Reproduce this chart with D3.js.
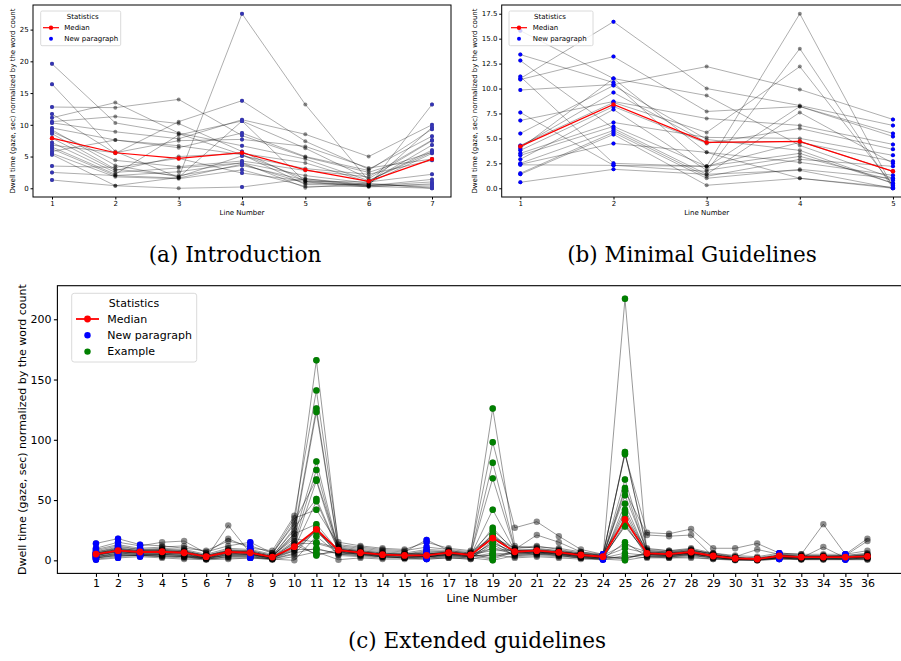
<!DOCTYPE html>
<html>
<head>
<meta charset="utf-8">
<script src="https://cdn.jsdelivr.net/npm/d3@7"></script>
<style>
  body { margin: 0; background: #fff; }
  svg { display: block; }
</style>
</head>
<body>
<svg id="chart" width="901" height="661"></svg>
<script>
// ---- data: (a) Introduction ----
const introLines = [1, 2, 3, 4, 5, 6, 7];
const introNewParagraph = [1, 4, 7];
const introMedian = [7.9, 5.6, 4.7, 5.6, 2.9, 1.1, 4.6];
const introRows = [
  [19.6, 10.3, 8.6, 5.3, 1.5, 0.6, 9.6],
  [16.4, 5.8, 1.7, 10.6, 6.3, 1.5, 7.5],
  [12.8, 12.7, 14.0, 8.3, 4.9, 2.5, 5.7],
  [11.7, 5.5, 10.5, 13.8, 7.4, 3.0, 8.2],
  [11.1, 13.5, 8.7, 6.7, 4.6, 1.2, 6.0],
  [10.5, 11.3, 10.2, 5.8, 1.1, 0.3, 13.2],
  [10.3, 8.9, 7.8, 10.8, 8.5, 5.0, 10.0],
  [9.5, 7.6, 6.4, 8.7, 5.0, 2.8, 9.3],
  [9.2, 3.6, 1.8, 5.1, 3.1, 2.2, 4.4],
  [8.9, 4.4, 3.4, 4.3, 2.8, 1.8, 7.6],
  [8.6, 3.0, 2.0, 3.6, 1.3, 0.4, 1.0],
  [7.9, 2.8, 5.0, 5.5, 4.0, 1.0, 6.8],
  [7.2, 2.5, 3.2, 4.0, 2.0, 0.8, 5.5],
  [6.8, 5.6, 7.5, 7.7, 6.6, 3.2, 4.6],
  [6.5, 2.2, 8.4, 10.6, 1.0, 0.2, 0.7],
  [6.2, 2.0, 1.6, 3.8, 0.8, 0.6, 0.2],
  [5.8, 7.6, 6.7, 5.3, 0.6, 0.5, 0.5],
  [5.5, 1.8, 1.5, 2.9, 0.3, 0.3, 0.0],
  [5.3, 0.4, 0.0, 0.2, 1.5, 0.4, 1.4],
  [3.5, 3.3, 4.7, 2.4, 1.1, 1.0, 2.2],
  [2.5, 2.0, 2.6, 4.0, 0.1, 0.8, 0.0],
  [1.3, 0.4, 1.7, 27.5, 13.2, 1.2, 5.7]
];
const introYTicks = [0, 5, 10, 15, 20, 25];

// ---- data: (b) Minimal Guidelines ----
const minimalLines = [1, 2, 3, 4, 5];
const minimalNewParagraph = [1, 2, 5];
const minimalMedian = [4.2, 8.4, 4.6, 4.7, 1.7];
const minimalRows = [
  [15.8, 11.0, 9.3, 4.3, 1.0],
  [13.4, 10.6, 2.1, 8.2, 5.2],
  [12.8, 6.0, 1.4, 7.6, 2.5],
  [11.2, 2.5, 2.2, 17.5, 0.1],
  [11.0, 16.7, 10.0, 8.3, 6.3],
  [10.9, 13.2, 7.7, 8.2, 5.5],
  [9.85, 10.4, 12.2, 9.9, 6.9],
  [7.6, 2.3, 1.7, 14.0, 0.0],
  [6.8, 8.7, 7.0, 6.3, 4.4],
  [5.5, 10.3, 4.9, 3.8, 0.5],
  [4.3, 8.6, 5.6, 12.2, 0.3],
  [4.2, 9.6, 4.6, 4.7, 1.7],
  [4.0, 11.0, 3.6, 1.0, 0.0],
  [3.8, 8.2, 4.5, 6.0, 3.9],
  [3.5, 6.6, 5.1, 5.0, 3.3],
  [3.3, 6.2, 2.2, 4.6, 2.7],
  [2.9, 7.9, 1.8, 3.2, 0.8],
  [2.5, 5.8, 1.2, 2.9, 2.2],
  [2.4, 4.5, 3.6, 2.6, 1.3],
  [1.5, 5.6, 1.0, 1.9, 1.0],
  [1.4, 5.4, 0.3, 1.0, 0.1],
  [0.6, 1.9, 1.4, 1.8, 0.0],
  [2.35, 2.3, 2.2, 3.5, 0.5]
];
const minimalYTicks = [0, 2.5, 5, 7.5, 10, 12.5, 15, 17.5];

// ---- data: (c) Extended guidelines ----
const extendedLines = d3.range(1, 37);
const extendedNewParagraph = [1, 2, 3, 8, 16, 24, 32, 35];
const extendedExample = [11, 19, 25];
const extendedMedian = [5.2, 8, 6.9, 7.1, 6.3, 3, 6.9, 6.3, 2.7, 11.3, 25.7, 8.5, 6.3, 4.7, 4.1, 4.1, 6.3, 4.4,
  18.5, 7.1, 8, 6.6, 4.4, 3, 34, 5.8, 5.2, 6.9, 3.6, 1.6, 1.1, 3.6, 2.7, 2.7, 2.7, 3.3];
const extendedRows = [
  [3, 6, 5, 4, 3, 2, 4, 5, 1, 8, 24, 6, 5, 3, 2, 3, 4, 3, 10, 5, 6, 4, 3, 2, 217, 4, 3, 5, 2, 1, 0.5, 2, 1, 2, 1, 2],
  [14, 18, 13, 12, 10, 8, 16, 12, 6, 30, 166, 12, 10, 8, 7, 17, 8, 6, 126, 12, 10, 8, 6, 4, 90, 8, 7, 9, 5, 3, 2, 5, 4, 3, 4, 6],
  [10, 15, 12, 15, 16, 6, 18, 10, 8, 37, 141, 15, 12, 10, 9, 15, 10, 8, 98, 27, 32, 20, 9, 5, 88, 23, 22, 26, 10, 10, 14, 6, 5, 30, 5, 18],
  [8, 12, 9, 9, 8, 4, 9, 8, 4, 25, 126, 10, 8, 6, 5, 8, 7, 5, 81, 10, 12, 9, 6, 4, 89, 10, 8, 9, 5, 2, 1, 4, 3, 3, 3, 4],
  [6, 10, 8, 8, 7, 3, 8, 7, 3, 22, 123, 9, 7, 5, 5, 6, 6, 5, 68, 9, 8, 7, 5, 3, 67, 7, 6, 8, 4, 2, 1, 4, 3, 4, 3, 5],
  [5, 9, 7, 7, 6, 3, 7, 6, 3, 20, 82, 9, 7, 5, 4, 5, 6, 4, 42, 8, 9, 7, 5, 3, 60, 6, 5, 7, 4, 1.5, 1, 3, 3, 3, 3, 4],
  [4, 8, 6, 6, 6, 2, 29, 6, 2, 15, 75, 8, 6, 4, 4, 4, 5, 4, 27, 7, 8, 6, 4, 2, 58, 21, 20, 21, 3, 1, 0.5, 3, 2, 11, 2, 3],
  [7, 11, 9, 10, 9, 5, 10, 9, 5, 32, 67, 11, 9, 7, 6, 9, 8, 6, 25, 9, 21, 15, 7, 4, 54, 8, 7, 8, 6, 3, 9, 5, 4, 4, 4, 16],
  [2, 5, 4, 5, 4, 1, 5, 4, 1, 12, 66, 7, 5, 3, 3, 3, 4, 3, 22, 6, 7, 5, 3, 1, 47, 5, 4, 6, 3, 1, 0, 2, 2, 2, 2, 3],
  [6, 8, 7, 7, 7, 3, 7, 7, 3, 27, 51, 9, 7, 5, 4, 5, 7, 5, 21, 7, 8, 7, 5, 3, 42, 6, 6, 7, 4, 2, 1, 4, 3, 3, 3, 3],
  [5, 7, 6, 8, 6, 3, 6, 6, 2, 10, 49, 8, 6, 5, 4, 4, 6, 4, 20, 7, 8, 6, 4, 3, 39, 5, 5, 6, 3, 1, 1, 3, 2, 2, 3, 3],
  [9, 13, 10, 11, 12, 7, 12, 15, 6, 35, 42, 13, 11, 9, 8, 11, 9, 7, 19, 10, 11, 10, 7, 5, 35, 9, 8, 10, 6, 4, 3, 6, 5, 5, 5, 8],
  [4, 7, 6, 6, 5, 2, 6, 5, 2, 8, 27, 8, 6, 4, 4, 3, 5, 4, 18, 7, 7, 6, 4, 3, 33, 5, 5, 6, 3, 1, 1, 3, 2, 2, 2, 3],
  [1, 3, 4, 3, 2, 1, 2, 2, 1, 5, 26, 4, 3, 2, 2, 1, 2, 1, 17, 3, 4, 3, 2, 1, 31, 3, 2, 3, 1, 0.5, 0, 1, 1, 1, 1, 1],
  [3, 6, 5, 5, 4, 2, 4, 4, 2, 12, 25, 7, 5, 4, 3, 3, 4, 3, 15, 6, 6, 5, 3, 2, 29, 5, 4, 5, 3, 1, 1, 3, 2, 2, 2, 2],
  [5, 8, 7, 7, 6, 3, 7, 6, 2, 11, 24, 8, 6, 5, 4, 4, 6, 4, 14, 7, 7, 6, 4, 3, 28, 6, 5, 6, 4, 2, 1, 3, 3, 3, 3, 3],
  [2, 4, 4, 3, 3, 1, 3, 3, 1, 0, 20, 5, 4, 3, 2, 2, 3, 2, 13, 4, 5, 4, 2, 1, 15, 3, 3, 4, 2, 0.5, 0.5, 2, 1, 1, 1, 2],
  [7, 10, 8, 9, 8, 4, 8, 8, 4, 18, 15, 10, 8, 6, 5, 7, 7, 5, 10, 8, 9, 8, 5, 4, 13, 7, 6, 8, 5, 2, 2, 4, 3, 3, 4, 5],
  [6, 9, 7, 8, 7, 4, 8, 7, 3, 14, 14, 9, 7, 5, 5, 6, 6, 5, 8, 8, 8, 7, 5, 3, 10, 6, 5, 7, 4, 2, 1, 4, 3, 3, 3, 4],
  [3, 5, 5, 5, 4, 2, 5, 5, 2, 9, 9, 6, 5, 4, 3, 3, 5, 3, 6, 5, 6, 5, 3, 2, 6, 4, 4, 5, 3, 1, 1, 2, 2, 2, 2, 2],
  [0.5, 2, 3, 2, 1, 0.5, 1, 2, 0.5, 3, 7, 0.5, 2, 1, 1, 1, 2, 1, 5, 2, 3, 2, 1, 0.5, 4, 2, 2, 2, 1, 0, 0, 1, 0.5, 0.5, 0.5, 0.5],
  [4, 7, 6, 6, 5, 2, 6, 5, 2, 13, 5, 7, 6, 4, 4, 3, 5, 4, 4, 6, 7, 5, 4, 2, 2, 5, 4, 6, 3, 1, 1, 3, 2, 2, 2, 3],
  [6, 9, 8, 8, 7, 3, 7, 7, 3, 16, 4, 9, 7, 5, 5, 5, 7, 5, 2, 8, 8, 7, 5, 3, 1, 6, 6, 7, 4, 2, 1, 4, 3, 3, 3, 4],
  [2, 4, 4, 4, 3, 1, 3, 3, 1, 6, 10, 5, 4, 3, 2, 2, 3, 2, 0, 4, 5, 4, 2, 1, 0, 3, 3, 4, 2, 0.5, 0.5, 2, 1, 1, 1, 1],
  [5, 8, 7, 7, 6, 3, 7, 6, 3, 22, 30, 8, 6, 5, 4, 5, 6, 4, 1, 7, 7, 6, 4, 3, 2, 6, 5, 6, 4, 2, 1, 4, 3, 3, 3, 3]
];
const extendedYTicks = [0, 50, 100, 150, 200];

const yLabel = "Dwell time (gaze, sec) normalized by the word count";
const FONT = "'DejaVu Sans', sans-serif";

const svg = d3.select("#chart");

// 畫一個子圖
function drawPanel(p) {
  const g = svg.append("g");
  const x = d3.scaleLinear().domain(p.xDomain).range([p.left, p.right]);
  const y = d3.scaleLinear().domain(p.yDomain).range([p.bottom, p.top]);

  svg.append("clipPath").attr("id", p.id + "-clip")
    .append("rect")
    .attr("x", p.left).attr("y", p.top)
    .attr("width", p.right - p.left).attr("height", p.bottom - p.top);

  const plot = g.append("g").attr("clip-path", `url(#${p.id}-clip)`);
  const line = d3.line().x((d, i) => x(p.lines[i])).y(d => y(d));

  // 每位受試者
  p.rows.forEach(row => {
    plot.append("path")
      .attr("d", line(row))
      .attr("fill", "none")
      .attr("stroke", "#000")
      .attr("stroke-opacity", 0.4)
      .attr("stroke-width", p.lw);
    plot.append("g").selectAll("circle")
      .data(row)
      .join("circle")
      .attr("cx", (d, i) => x(p.lines[i]))
      .attr("cy", d => y(d))
      .attr("r", p.r)
      .attr("fill", "#000")
      .attr("fill-opacity", 0.45);
  });

  // 標記特殊行
  p.marks.forEach(m => {
    const pts = [];
    p.rows.forEach(row => m.lines.forEach(l => pts.push([l, row[p.lines.indexOf(l)]])));
    plot.append("g").selectAll("circle")
      .data(pts)
      .join("circle")
      .attr("cx", d => x(d[0]))
      .attr("cy", d => y(d[1]))
      .attr("r", p.r)
      .attr("fill", m.fill);
  });

  // 中位數
  plot.append("path")
    .attr("d", line(p.median))
    .attr("fill", "none")
    .attr("stroke", "red")
    .attr("stroke-width", p.mw);
  plot.append("g").selectAll("circle")
    .data(p.median)
    .join("circle")
    .attr("cx", (d, i) => x(p.lines[i]))
    .attr("cy", d => y(d))
    .attr("r", p.mr)
    .attr("fill", "red");

  // 座標軸
  const xAxis = g.append("g")
    .attr("transform", `translate(0,${p.bottom})`)
    .call(d3.axisBottom(x).tickValues(p.lines).tickFormat(d3.format("d"))
      .tickSize(p.tick).tickPadding(p.pad));
  const yAxis = g.append("g")
    .attr("transform", `translate(${p.left},0)`)
    .call(d3.axisLeft(y).tickValues(p.yTicks).tickFormat(p.yFormat)
      .tickSize(p.tick).tickPadding(p.pad));
  [xAxis, yAxis].forEach(a => {
    a.select(".domain").remove();
    a.selectAll("line").attr("stroke", "#000").attr("stroke-width", p.sw);
    a.selectAll("text").attr("fill", "#000")
      .style("font-family", FONT).style("font-size", p.font + "px");
  });

  g.append("rect")
    .attr("x", p.left).attr("y", p.top)
    .attr("width", p.right - p.left).attr("height", p.bottom - p.top)
    .attr("fill", "none").attr("stroke", "#000").attr("stroke-width", p.sw);

  g.append("text")
    .attr("x", (p.left + p.right) / 2)
    .attr("y", p.xLabelY)
    .attr("text-anchor", "middle")
    .attr("dominant-baseline", "central")
    .style("font-family", FONT).style("font-size", p.font + "px")
    .text("Line Number");

  g.append("text")
    .attr("transform", `translate(${p.yLabelX},${(p.top + p.bottom) / 2}) rotate(-90)`)
    .attr("text-anchor", "middle")
    .attr("dominant-baseline", "central")
    .style("font-family", FONT).style("font-size", p.font + "px")
    .text(yLabel);

  // 圖例
  const L = p.legend;
  const lg = g.append("g");
  lg.append("rect")
    .attr("x", L.x).attr("y", L.y).attr("width", L.w).attr("height", L.h)
    .attr("rx", L.rx)
    .attr("fill", "#fff").attr("fill-opacity", 0.8)
    .attr("stroke", "#d0d0d0").attr("stroke-width", 0.8);
  lg.append("text")
    .attr("x", L.titleX).attr("y", L.y + L.titleDy)
    .attr("text-anchor", "middle").attr("dominant-baseline", "central")
    .style("font-family", FONT).style("font-size", p.font + "px")
    .text("Statistics");
  L.items.forEach((it, i) => {
    const cy = L.y + L.rowDy + i * L.rowStep;
    if (it.line) {
      lg.append("line")
        .attr("x1", L.hx).attr("x2", L.hx + L.hw).attr("y1", cy).attr("y2", cy)
        .attr("stroke", it.color).attr("stroke-width", p.mw);
      lg.append("circle").attr("cx", L.hx + L.hw / 2).attr("cy", cy).attr("r", p.mr).attr("fill", it.color);
    } else {
      lg.append("circle").attr("cx", L.hx + L.hw / 2).attr("cy", cy).attr("r", p.r).attr("fill", it.color);
    }
    lg.append("text")
      .attr("x", L.tx).attr("y", cy)
      .attr("dominant-baseline", "central")
      .style("font-family", FONT).style("font-size", p.font + "px")
      .text(it.label);
  });
}

const smallLegendItems = [
  { label: "Median", color: "red", line: true },
  { label: "New paragraph", color: "blue" }
];

drawPanel({
  id: "intro", lines: introLines, rows: introRows, median: introMedian,
  marks: [{ lines: introNewParagraph, fill: "#3434b4" }],
  xDomain: [0.7, 7.3], yDomain: [-1.375, 28.875],
  left: 33, right: 451, top: 5, bottom: 197,
  yTicks: introYTicks, yFormat: d3.format("d"),
  r: 2, lw: 0.8, mw: 1.2, mr: 2.2, sw: 1, tick: 2.5, pad: 1.8, font: 7,
  xLabelY: 213, yLabelX: 13,
  legend: { x: 40.7, y: 11, w: 80, h: 34.7, rx: 1.5, titleX: 82.7, titleDy: 5.7,
    rowDy: 16.7, rowStep: 11, hx: 43, hw: 16, tx: 64.3, items: smallLegendItems }
});

drawPanel({
  id: "minimal", lines: minimalLines, rows: minimalRows, median: minimalMedian,
  marks: [{ lines: minimalNewParagraph, fill: "blue" }],
  xDomain: [0.8, 5.2], yDomain: [-0.875, 18.375],
  left: 501.7, right: 911.6, top: 5, bottom: 197,
  yTicks: minimalYTicks, yFormat: d3.format(".1f"),
  r: 2, lw: 0.8, mw: 1.2, mr: 2.2, sw: 1, tick: 2.5, pad: 1.8, font: 7,
  xLabelY: 213, yLabelX: 475,
  legend: { x: 509, y: 11, w: 84, h: 34.7, rx: 1.5, titleX: 550, titleDy: 5.7,
    rowDy: 16.7, rowStep: 11, hx: 511, hw: 16, tx: 532.7, items: smallLegendItems }
});

drawPanel({
  id: "extended", lines: extendedLines, rows: extendedRows, median: extendedMedian,
  marks: [
    { lines: extendedNewParagraph, fill: "blue" },
    { lines: extendedExample, fill: "green" }
  ],
  xDomain: [-0.75, 37.75], yDomain: [-10.85, 227.85],
  left: 57.4, right: 906, top: 285.7, bottom: 573.4,
  yTicks: extendedYTicks, yFormat: d3.format("d"),
  r: 3.2, lw: 1, mw: 1.8, mr: 3.4, sw: 1.1, tick: 3.5, pad: 2.5, font: 11,
  xLabelY: 598, yLabelX: 22,
  legend: { x: 71.7, y: 293.3, w: 125, h: 68.7, rx: 2.5, titleX: 134, titleDy: 10,
    rowDy: 25.7, rowStep: 16.3, hx: 76, hw: 23, tx: 107.3,
    items: [
      { label: "Median", color: "red", line: true },
      { label: "New paragraph", color: "blue" },
      { label: "Example", color: "green" }
    ] }
});

// 子圖標題
const captions = [
  { text: "(a) Introduction", x: 235, y: 262 },
  { text: "(b) Minimal Guidelines", x: 692, y: 262 },
  { text: "(c) Extended guidelines", x: 477, y: 648 }
];
svg.append("g").selectAll("text")
  .data(captions)
  .join("text")
  .attr("x", d => d.x)
  .attr("y", d => d.y)
  .attr("text-anchor", "middle")
  .style("font-family", "'DejaVu Serif', serif")
  .style("font-size", "21.5px")
  .text(d => d.text);
</script>
</body>
</html>
